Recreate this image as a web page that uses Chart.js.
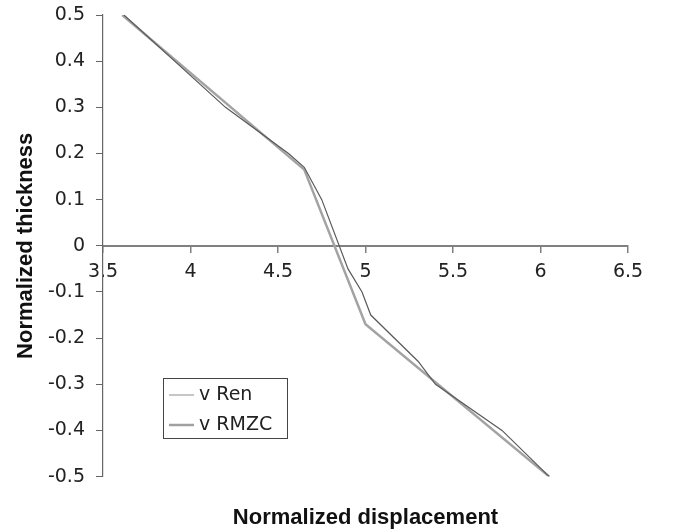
<!DOCTYPE html>
<html>
<head>
<meta charset="utf-8">
<script src="https://cdn.jsdelivr.net/npm/chart.js@4.4.1/dist/chart.umd.min.js"></script>
<style>
  html, body { margin: 0; padding: 0; background: #fff; }
  #wrap { width: 675px; height: 531px; }
</style>
</head>
<body>
<div id="wrap"><canvas id="chart" width="675" height="531"></canvas></div>
<script>
// series (normalized displacement, normalized thickness)
const renX = [3.62, 4.2, 4.56, 4.65, 4.75, 4.9, 4.98, 5.03, 5.3, 5.4, 5.78, 6.05];
const renY = [0.5, 0.3, 0.2, 0.17, 0.1, -0.05, -0.1, -0.15, -0.25, -0.3, -0.4, -0.5];
const rmzcX = [3.61, 4.65, 5.0, 6.05];
const rmzcY = [0.5, 0.165, -0.17, -0.5];
const seriesNames = ['v Ren', 'v RMZC'];
const xTitle = 'Normalized displacement';
const yTitle = 'Normalized thickness';

const tickFont = { family: '"DejaVu Sans", sans-serif', size: 19 };
const titleFont = { family: '"Liberation Sans", Arial, sans-serif', size: 22, weight: 'bold' };

function toPoints(xs, ys) {
  return xs.map((x, i) => ({ x: x, y: ys[i] }));
}

function fmt(v) {
  return Math.abs(v) < 1e-9 ? '0' : String(Math.round(v * 10) / 10);
}

// small boxed legend sitting inside the plot, lower left
const boxLegend = {
  id: 'boxLegend',
  afterDraw(chart) {
    const ctx = chart.ctx;
    const area = chart.chartArea;
    const left = area.left + 60;
    const top = 378;
    const w = 124, h = 60;
    ctx.save();
    ctx.fillStyle = '#fff';
    ctx.fillRect(left, top, w, h);
    ctx.strokeStyle = '#444';
    ctx.lineWidth = 1;
    ctx.strokeRect(left + 0.5, top + 0.5, w, h);
    ctx.font = '19px "DejaVu Sans", sans-serif';
    ctx.textBaseline = 'middle';
    chart.data.datasets.forEach((ds, i) => {
      const y = top + 17 + i * 30;
      ctx.strokeStyle = '#a0a0a0';
      ctx.lineWidth = ds.borderWidth;
      ctx.beginPath();
      ctx.moveTo(left + 6, y);
      ctx.lineTo(left + 31, y);
      ctx.stroke();
      ctx.fillStyle = '#222';
      ctx.fillText(ds.label, left + 36, y);
    });
    ctx.restore();
  }
};

new Chart(document.getElementById('chart'), {
  type: 'line',
  data: {
    datasets: [
      {
        label: seriesNames[0],
        data: toPoints(renX, renY),
        borderColor: '#5a5a5a',
        borderWidth: 1.2,
        pointRadius: 0,
        tension: 0,
        fill: false
      },
      {
        label: seriesNames[1],
        data: toPoints(rmzcX, rmzcY),
        borderColor: '#a3a3a3',
        borderWidth: 2.5,
        pointRadius: 0,
        tension: 0,
        fill: false
      }
    ]
  },
  options: {
    responsive: false,
    animation: false,
    layout: { padding: { left: 0, top: 15, right: 47, bottom: 0 } },
    plugins: {
      legend: { display: false },
      tooltip: { enabled: false },
      title: {
        display: true,
        position: 'bottom',
        fullSize: false,
        text: xTitle,
        color: '#111',
        font: titleFont,
        padding: { top: 28, bottom: 0 }
      }
    },
    scales: {
      x: {
        type: 'linear',
        position: { y: 0 },
        min: 3.5,
        max: 6.5,
        ticks: {
          stepSize: 0.5,
          padding: 9,
          color: '#222',
          font: tickFont,
          maxRotation: 0,
          callback: fmt
        },
        grid: { drawOnChartArea: false, tickLength: 6, color: '#808080', lineWidth: 1.5 },
        border: { color: '#808080', width: 2 }
      },
      y: {
        type: 'linear',
        min: -0.5,
        max: 0.5,
        afterFit(scale) {
          scale.width = 103;
          scale.paddingTop = 4;
          scale.paddingBottom = 4;
        },
        ticks: {
          stepSize: 0.1,
          padding: 11,
          color: '#222',
          font: tickFont,
          callback: fmt
        },
        grid: { drawOnChartArea: false, tickLength: 7, color: '#666' },
        border: { color: '#666', width: 1.2 },
        title: {
          display: true,
          text: yTitle,
          color: '#111',
          font: titleFont,
          padding: { top: 13, bottom: 0 }
        }
      }
    }
  },
  plugins: [boxLegend]
});
</script>
</body>
</html>
